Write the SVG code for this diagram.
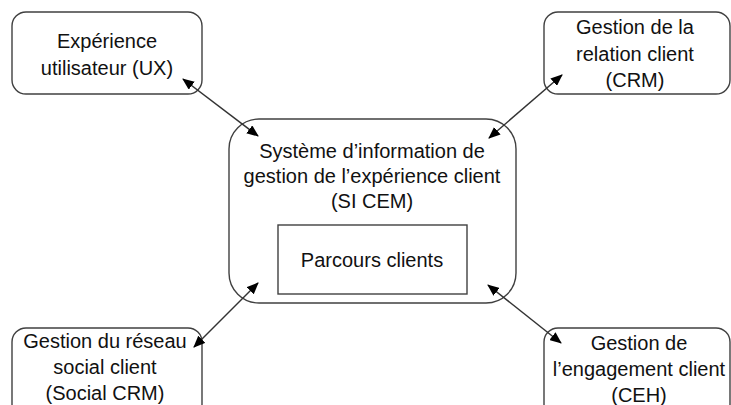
<svg xmlns="http://www.w3.org/2000/svg" width="731" height="405" viewBox="0 0 731 405">
<defs>
<style>
.box{fill:#fff;stroke:#404040;stroke-width:1.4}
.t{font-family:"Liberation Sans",Arial,sans-serif;font-size:20px;fill:#111;text-anchor:middle}
.c{stroke:#333;stroke-width:1.5;fill:none;marker-start:url(#ah);marker-end:url(#ah)}
</style>
<marker id="ah" viewBox="0 0 12 10" refX="11" refY="5" markerWidth="12" markerHeight="10" markerUnits="userSpaceOnUse" orient="auto-start-reverse">
<path d="M0,0 L12,5 L0,10 z" fill="#000"/>
</marker>
</defs>
<rect width="731" height="405" fill="#fff"/>
<g id="ux">
<rect class="box" x="12" y="12" width="190" height="82" rx="14"/>
<text class="t" x="107" y="48">Expérience</text>
<text class="t" x="107" y="75">utilisateur (UX)</text>
</g>
<g id="crm">
<rect class="box" x="544" y="12" width="186" height="82" rx="14"/>
<text class="t" x="635" y="34">Gestion de la</text>
<text class="t" x="635" y="61">relation client</text>
<text class="t" x="635" y="87">(CRM)</text>
</g>
<g id="social">
<rect class="box" x="12" y="328" width="190" height="90" rx="14"/>
<text class="t" x="105" y="348">Gestion du réseau</text>
<text class="t" x="105" y="374">social client</text>
<text class="t" x="105" y="400">(Social CRM)</text>
</g>
<g id="ceh">
<rect class="box" x="544" y="328" width="186" height="90" rx="14"/>
<text class="t" x="639" y="350">Gestion de</text>
<text class="t" x="639" y="376">l’engagement client</text>
<text class="t" x="639" y="402">(CEH)</text>
</g>
<g id="sicem">
<rect class="box" x="229" y="119" width="287" height="184" rx="30"/>
<text class="t" x="372" y="158">Système d’information de</text>
<text class="t" x="372" y="183">gestion de l’expérience client</text>
<text class="t" x="372" y="208">(SI CEM)</text>
</g>
<g id="parcours">
<rect class="box" x="278" y="225" width="189" height="69"/>
<text class="t" x="372" y="267">Parcours clients</text>
</g>
<g id="connectors">
<line class="c" x1="183" y1="79" x2="258" y2="136"/>
<line class="c" x1="562" y1="75" x2="489" y2="138"/>
<line class="c" x1="194" y1="347" x2="258" y2="283"/>
<line class="c" x1="561" y1="343" x2="488" y2="285"/>
</g>
</svg>
